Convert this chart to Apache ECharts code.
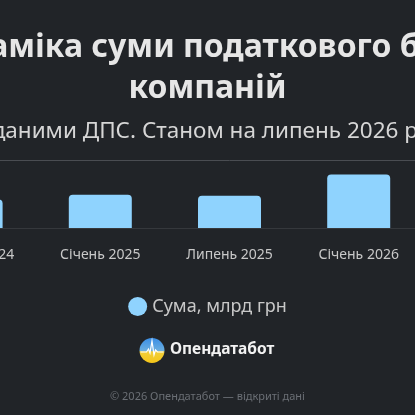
<!DOCTYPE html>
<html>
<head>
<meta charset="utf-8">
<script src="https://cdn.jsdelivr.net/npm/echarts@6/dist/echarts.min.js"></script>
<style>
html,body{margin:0;padding:0;background:#212428;overflow:hidden;width:415px;height:415px;}
#c{position:absolute;left:-200px;top:0;width:815px;height:415px;}
</style>
</head>
<body>
<div id="c"></div>
<script>
const categories = ['Липень 2024', 'Січень 2025', 'Липень 2025', 'Січень 2026', 'Липень 2026'];
const values = [84, 98, 95, 157, 190];
const seriesName = 'Сума, млрд грн';
const titleText = 'Динаміка суми податкового боргу\nкомпаній';
const subtitleText = 'За даними ДПС. Станом на липень 2026 року';
const footerText = '© 2026 Опендатабот — відкриті дані';
const brandText = 'Опендатабот';
const yMax = 200;

const FONT = '"Noto Sans", "Open Sans", sans-serif';
const OFF = 200; // container offset to the left of the viewport
const chart = echarts.init(document.getElementById('c'), null, {renderer: 'canvas'});

chart.setOption({
  backgroundColor: '#212428',
  animation: false,
  textStyle: {fontFamily: FONT},
  title: [
    {text: titleText, left: 'center', top: 22,
     textStyle: {color: '#e6e6e6', fontSize: 32, fontWeight: 'bold', lineHeight: 41, fontFamily: FONT}},
    {text: subtitleText, left: 'center', top: 115,
     textStyle: {color: '#d6d6d6', fontSize: 22.5, fontWeight: 'normal', lineHeight: 24, fontFamily: FONT}},
    {text: footerText, left: 'center', top: 386,
     textStyle: {color: '#6b6f75', fontSize: 11, fontWeight: 'normal', fontFamily: FONT}}
  ],
  legend: {
    data: [seriesName],
    top: 292, left: 'center',
    icon: 'circle', itemWidth: 19, itemHeight: 19, itemGap: 7,
    textStyle: {color: '#c8c8c8', fontSize: 18, fontFamily: FONT}
  },
  grid: {left: OFF - 93.5, right: 815 - (OFF + 552.5), top: 160, bottom: 187, containLabel: false},
  xAxis: {
    type: 'category', data: categories,
    axisLine: {show: true, lineStyle: {color: '#35383c', width: 1}},
    axisTick: {show: false},
    axisLabel: {color: '#c8c8c8', fontSize: 14, margin: 20, fontFamily: FONT}
  },
  yAxis: {
    type: 'value', min: 0, max: yMax, interval: yMax,
    axisLabel: {show: false}, axisLine: {show: false}, axisTick: {show: false},
    splitLine: {show: true, lineStyle: {color: '#4a4d52', width: 1}}
  },
  series: [{
    name: seriesName, type: 'bar', data: values,
    barWidth: 63,
    itemStyle: {color: '#8fd3fe', borderRadius: [4, 4, 0, 0]}
  }],
  graphic: [
    {type: 'group', left: OFF + 138, top: 338, children: [
      {type: 'circle', shape: {cx: 12.5, cy: 12.5, r: 12.5},
       style: {fill: new echarts.graphic.LinearGradient(0, 0, 0, 1, [
         {offset: 0, color: '#3a8ee6'}, {offset: 0.5, color: '#6aaee0'},
         {offset: 0.55, color: '#f1cf3a'}, {offset: 1, color: '#f5c518'}])}},
      {type: 'polyline', shape: {points: [[1,14],[7,14],[9,11],[10.5,15],[12.5,3],[14.5,17],[16,12],[18,14],[24,14]]},
       style: {stroke: '#ffffff', lineWidth: 1.2, fill: null}}
    ]},
    {type: 'text', left: OFF + 170, top: 342,
     style: {text: brandText, fill: '#f2f2f2', fontSize: 15.5, fontWeight: 'bold', fontFamily: FONT}}
  ]
});
</script>
</body>
</html>
